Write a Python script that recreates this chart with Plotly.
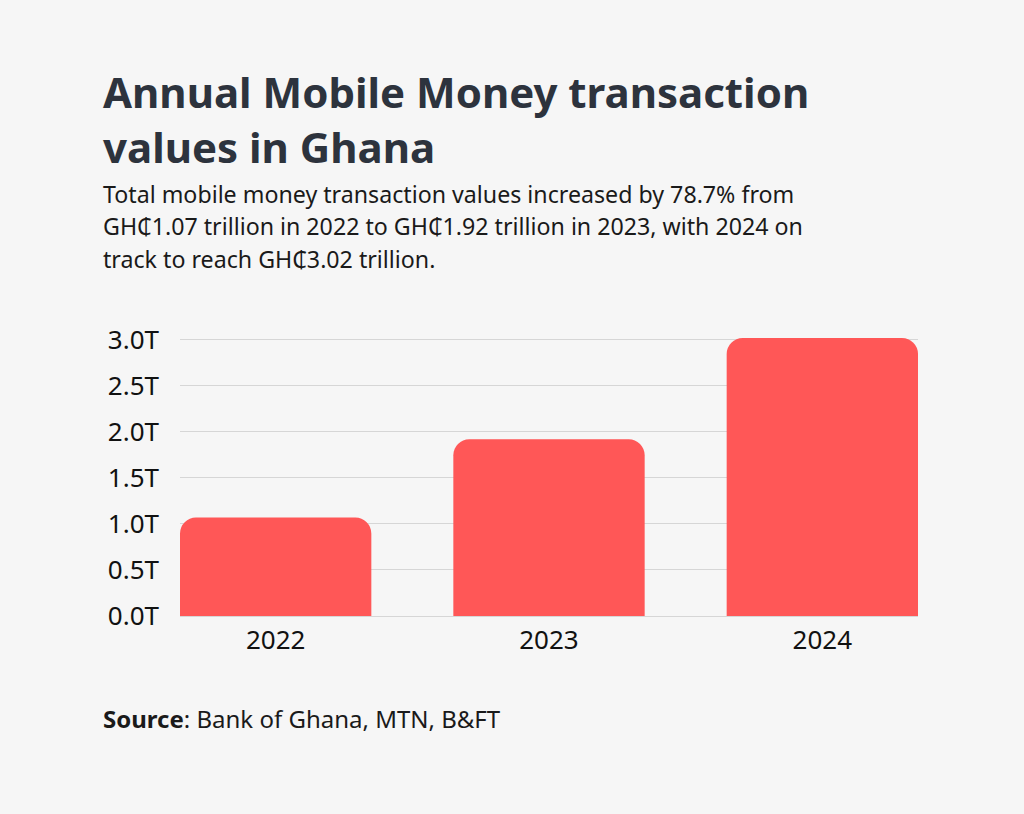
import plotly.graph_objects as go

years = ["2022", "2023", "2024"]
values_trillion = [1.07, 1.92, 3.02]
tick_vals = [0, 0.5, 1.0, 1.5, 2.0, 2.5, 3.0]
tick_text = ["0.0T", "0.5T", "1.0T", "1.5T", "2.0T", "2.5T", "3.0T"]

title_lines = ["Annual Mobile Money transaction", "values in Ghana"]
subtitle_lines = ["Total mobile money transaction values increased by 78.7% from",
                  "GH₵1.07 trillion in 2022 to GH₵1.92 trillion in 2023, with 2024 on",
                  "track to reach GH₵3.02 trillion."]
source = "<b>Source</b>: Bank of Ghana, MTN, B&FT"

W, H = 1024, 814
L, R, T, B = 180, 106, 338, 198
PH = H - T - B
BG = "#f6f6f6"
BARGAP = 0.30


def py(px):
    return (H - B - px) / PH


def px_x(px):
    return (px - L) / (W - L - R)


fig = go.Figure(go.Bar(x=years, y=values_trillion, marker=dict(color="#ff5757", line=dict(width=0)),
                       hoverinfo="skip"))

fig.update_layout(
    width=W, height=H,
    paper_bgcolor=BG, plot_bgcolor=BG,
    margin=dict(l=L, r=R, t=T, b=B),
    bargap=BARGAP,
    barcornerradius=16,
    showlegend=False,
    font=dict(family="Noto Sans", color="#111111"),
)
half = (1 - BARGAP) / 2
fig.update_yaxes(range=[0, 3.02], tickvals=tick_vals, ticktext=tick_text,
                 showgrid=True, gridcolor="#d6d6d6", gridwidth=1,
                 zeroline=True, zerolinecolor="#d6d6d6", zerolinewidth=1,
                 tickfont=dict(size=26, color="#111111"), ticklabelstandoff=20, showline=False)
fig.update_xaxes(range=[-half, len(years) - 1 + half],
                 tickfont=dict(size=26, color="#111111"), showline=False, ticks="",
                 ticklabelstandoff=6)

fig.add_annotation(text="<b>" + "<br>".join(title_lines) + "</b>", xref="paper", yref="paper",
                   x=px_x(101), y=py(119), xanchor="left", yanchor="middle", showarrow=False,
                   align="left", font=dict(family="Noto Sans", size=42, color="#2d333d"))
for line, ypx in zip(subtitle_lines, [194, 226, 259]):
    fig.add_annotation(text=line, xref="paper", yref="paper",
                       x=px_x(101), y=py(ypx), xanchor="left", yanchor="middle", showarrow=False,
                       align="left", font=dict(family="Noto Sans", size=23.2, color="#1a1a1a"))
fig.add_annotation(text=source, xref="paper", yref="paper", x=px_x(101), y=py(718),
                   xanchor="left", yanchor="middle", showarrow=False, align="left",
                   font=dict(family="Noto Sans", size=24, color="#1a1a1a"))

fig.write_html("out.html", config={"displayModeBar": False},
               post_script="document.body.style.margin='0px';document.body.style.background='#f6f6f6';")
